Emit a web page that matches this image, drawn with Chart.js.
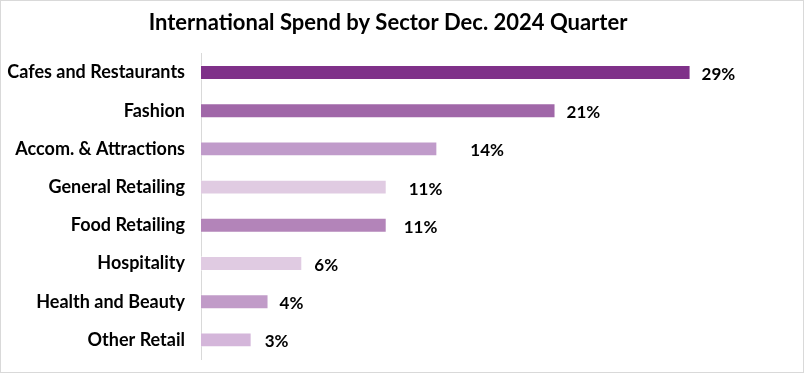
<!DOCTYPE html>
<html>
<head>
<meta charset="utf-8">
<script src="https://cdn.jsdelivr.net/npm/chart.js@4.4.1/dist/chart.umd.min.js"></script>
<style>
  body { margin: 0; background: #fff; }
  #wrap { width: 804px; height: 373px; border: 1px solid #d9d9d9; box-sizing: border-box; }
  canvas { display: block; }
</style>
</head>
<body>
<div id="wrap"><canvas id="myChart" width="802" height="371"></canvas></div>
<script>
// data
const sectors = ['Cafes and Restaurants', 'Fashion', 'Accom. & Attractions', 'General Retailing',
  'Food Retailing', 'Hospitality', 'Health and Beauty', 'Other Retail']
const shares = [29, 21, 14, 11, 11, 6, 4, 3]
const shareLabels = ['29%', '21%', '14%', '11%', '11%', '6%', '4%', '3%']

// styling
const barColors = ['#7f3189', '#a067a8', '#c09bca', '#e0cbe2', '#b384b9', '#e0cbe2', '#c19bc8', '#d4b6da']
const labelGap = [11, 11, 33, 22, 17, 12, 11, 13]

const fontFam = 'Lato, "Open Sans", sans-serif'

// draws the % labels next to each bar
const valueLabels = {
  id: 'valueLabels',
  afterDatasetsDraw(chart) {
    const ctx = chart.ctx
    const meta = chart.getDatasetMeta(0)
    ctx.save()
    ctx.font = 'bold 17px ' + fontFam
    ctx.fillStyle = '#000'
    ctx.textAlign = 'left'
    ctx.textBaseline = 'middle'
    meta.data.forEach((bar, i) => {
      ctx.fillText(shareLabels[i], bar.x + labelGap[i], bar.y + 2)
    })
    ctx.restore()
  }
}

const chart = document.querySelector('#myChart')

let myChart = new Chart(chart, {
  type: 'bar',
  data: {
    labels: sectors,
    datasets: [
      {
        data: shares,
        backgroundColor: barColors,
        borderColor: 'rgba(255,255,255,0.35)',
        borderWidth: 1,
        borderSkipped: 'start',
        barPercentage: 0.39,
        categoryPercentage: 1
      }
    ]
  },
  options: {
    indexAxis: 'y',
    responsive: false,
    devicePixelRatio: 1,
    animation: false,
    layout: { padding: { left: 0, right: 28, top: 0, bottom: 13 } },
    plugins: {
      legend: { display: false },
      tooltip: { enabled: false },
      title: {
        display: true,
        text: 'International Spend by Sector Dec. 2024 Quarter',
        color: '#000',
        font: { family: fontFam, size: 22, weight: 'bold' },
        padding: { top: 9, bottom: 17 }
      }
    },
    scales: {
      x: { display: false, min: 0, max: 34 },
      y: {
        afterFit(scale) {
          scale.width = 200
          // label overflow padding not needed here
          scale.paddingTop = 0
          scale.paddingBottom = 0
        },
        grid: { display: false, drawTicks: false },
        border: { display: true, color: '#d9d9d9', width: 1 },
        ticks: {
          color: '#000',
          padding: 16,
          font: { family: fontFam, size: 18, weight: 'bold' }
        }
      }
    }
  },
  plugins: [valueLabels]
});
</script>
</body>
</html>
